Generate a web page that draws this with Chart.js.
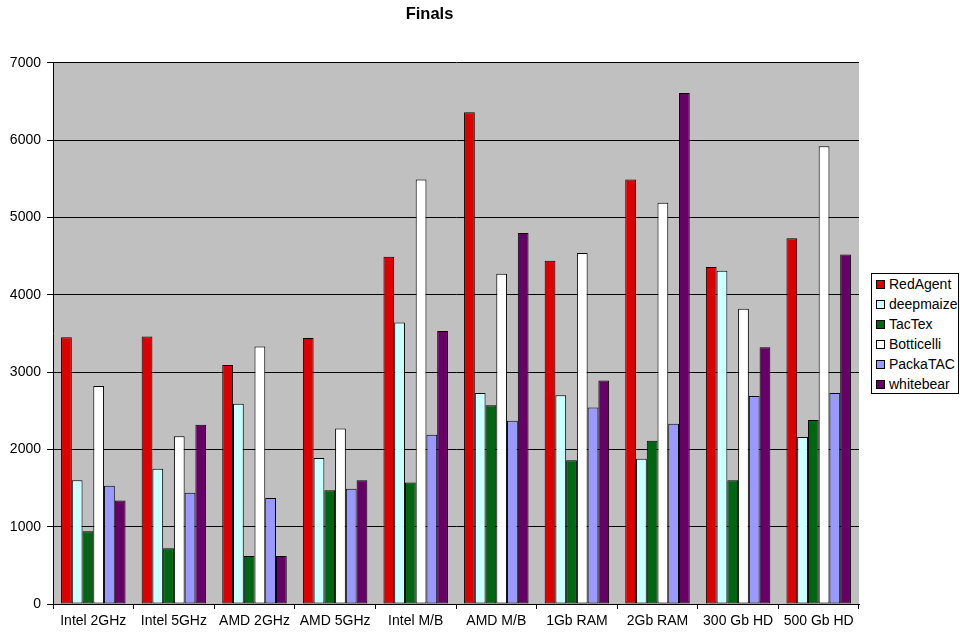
<!DOCTYPE html>
<html>
<head>
<meta charset="utf-8">
<script src="https://cdn.jsdelivr.net/npm/chart.js@4.4.1/dist/chart.umd.min.js"></script>
<style>
  body { margin: 0; background: #fff; }
  #wrap { position: relative; width: 960px; height: 635px; }
  #legend {
    position: absolute; left: 871px; top: 273px; width: 88px; height: 121px;
    border: 1px solid #000; box-sizing: border-box; background: #fff;
    font: 14px "Liberation Sans", Arial, sans-serif; color: #000;
    padding-top: 1px;
  }
  .item { height: 20px; line-height: 18px; white-space: nowrap; padding-left: 4px; }
  .sw { display: inline-block; width: 7px; height: 7px; border: 1px solid #000; margin-right: 4px; vertical-align: 0px; }
</style>
</head>
<body>
<div id="wrap">
  <canvas id="myChart" width="960" height="635"></canvas>
  <div id="legend"></div>
</div>
<script>
// categories and series
const categories = ["Intel 2GHz", "Intel 5GHz", "AMD 2GHz", "AMD 5GHz", "Intel M/B", "AMD M/B", "1Gb RAM", "2Gb RAM", "300 Gb HD", "500 Gb HD"]

const redAgent   = [3450, 3460, 3090, 3440, 4490, 6360, 4440, 5490, 4360, 4730]
const deepmaize  = [1600, 1750, 2590, 1890, 3640, 2730, 2700, 1880, 4310, 2160]
const tacTex     = [940, 720, 620, 1470, 1570, 2570, 1860, 2110, 1600, 2380]
const botticelli = [2820, 2170, 3330, 2270, 5490, 4270, 4540, 5190, 3820, 5920]
const packaTAC   = [1530, 1440, 1370, 1490, 2190, 2370, 2540, 2330, 2690, 2730]
const whitebear  = [1340, 2320, 620, 1600, 3530, 4800, 2890, 6610, 3320, 4520]

const seriesNames = ["RedAgent", "deepmaize", "TacTex", "Botticelli", "PackaTAC", "whitebear"]
const seriesData = [redAgent, deepmaize, tacTex, botticelli, packaTAC, whitebear]
const seriesColors = ["#DD0000", "#CCFFFF", "#006611", "#FFFFFF", "#9999FF", "#660066"]

const FONT = "'Liberation Sans', Arial, sans-serif"

// grey plot area behind the bars
const plotBackground = {
    id: 'plotBackground',
    beforeDraw(chart) {
        const a = chart.chartArea
        const ctx = chart.ctx
        ctx.save()
        ctx.fillStyle = '#C0C0C0'
        ctx.fillRect(a.left, a.top, a.right - a.left, a.bottom - a.top)
        ctx.restore()
    }
}

const datasets = seriesNames.map((name, i) => ({
    label: name,
    data: seriesData[i],
    backgroundColor: seriesColors[i],
    borderColor: '#000',
    borderWidth: 1,
    borderSkipped: false,
    categoryPercentage: 0.8,
    barPercentage: 1.0
}))

const ctx = document.getElementById('myChart').getContext('2d')
const chart = new Chart(ctx, {
    type: 'bar',
    data: { labels: categories, datasets: datasets },
    plugins: [plotBackground],
    options: {
        responsive: false,
        animation: false,
        layout: { padding: { left: 0, right: 101, top: 0, bottom: 0 } },
        plugins: {
            legend: { display: false },
            tooltip: { enabled: false },
            title: {
                display: true,
                text: 'Finals',
                color: '#000',
                font: { family: FONT, size: 16.5, weight: 'bold' },
                padding: { top: 5, bottom: 38 }
            }
        },
        scales: {
            x: {
                grid: { display: true, offset: true, drawOnChartArea: false, color: '#000', tickLength: 5 },
                border: { color: '#000' },
                ticks: { color: '#000', font: { family: FONT, size: 14 }, padding: 4, maxRotation: 0 },
                afterFit: s => { s.height = 31 }
            },
            y: {
                min: 0,
                max: 7000,
                ticks: { stepSize: 1000, color: '#000', font: { family: FONT, size: 14 }, padding: 6,
                         callback: v => String(v) },
                grid: { color: '#000', tickLength: 6 },
                border: { color: '#000' },
                afterFit: s => { s.width = 53 }
            }
        }
    }
})

// legend box on the right
const legend = document.getElementById('legend')
seriesNames.forEach((name, i) => {
    const row = document.createElement('div')
    row.className = 'item'
    row.innerHTML = '<span class="sw" style="background:' + seriesColors[i] + '"></span>' + name
    legend.appendChild(row)
})
</script>
</body>
</html>
